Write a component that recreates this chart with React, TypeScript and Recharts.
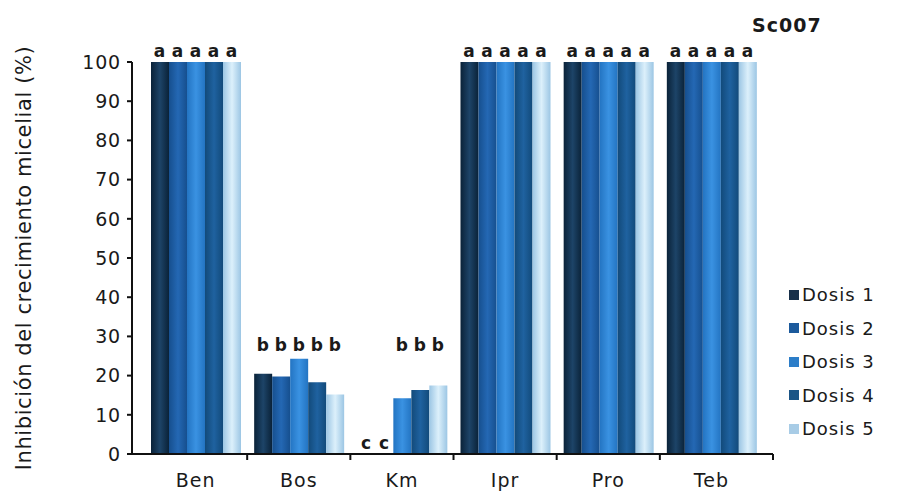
import React from "react";
import { BarChart, Bar, XAxis, YAxis } from "recharts";

const categories = ["Ben", "Bos", "Km", "Ipr", "Pro", "Teb"];
const dosis1 = [100, 20.5, 0, 100, 100, 100];
const dosis2 = [100, 19.8, 0, 100, 100, 100];
const dosis3 = [100, 24.3, 14.2, 100, 100, 100];
const dosis4 = [100, 18.3, 16.3, 100, 100, 100];
const dosis5 = [100, 15.2, 17.5, 100, 100, 100];

// letras de significancia por dosis y categoria
const letters1 = ["a", "b", "c", "a", "a", "a"];
const letters2 = ["a", "b", "c", "a", "a", "a"];
const letters3 = ["a", "b", "b", "a", "a", "a"];
const letters4 = ["a", "b", "b", "a", "a", "a"];
const letters5 = ["a", "b", "b", "a", "a", "a"];
// altura (en %) sobre la que se escriben las letras de cada grupo
const letterLevel = [100, 25, 25, 100, 100, 100];

const yTicks = [0, 10, 20, 30, 40, 50, 60, 70, 80, 90, 100];

const data = categories.map((name, i) => ({
  name,
  d1: dosis1[i],
  d2: dosis2[i],
  d3: dosis3[i],
  d4: dosis4[i],
  d5: dosis5[i],
}));

const series = [
  { key: "d1", name: "Dosis 1", letters: letters1, edge: "#0a2238", mid: "#1d4468", swatch: "#18304a" },
  { key: "d2", name: "Dosis 2", letters: letters2, edge: "#164f8e", mid: "#2468b4", swatch: "#1c5a9c" },
  { key: "d3", name: "Dosis 3", letters: letters3, edge: "#2374c2", mid: "#3a92e2", swatch: "#2c7dc8" },
  { key: "d4", name: "Dosis 4", letters: letters4, edge: "#124a7a", mid: "#1f62a0", swatch: "#1b5586" },
  { key: "d5", name: "Dosis 5", letters: letters5, edge: "#9cc6e4", mid: "#dcf0fb", swatch: "#a8cce6" },
];

const W = 896;
const H = 487;
const TOP = 54;
const XAXIS_H = 41;
const PLOT_H = H - TOP - XAXIS_H;
const BASE_Y = TOP + PLOT_H;
const BAR_SIZE = 18;
const BAND = 103.2;
const FONT = "'DejaVu Sans', Arial, sans-serif";

const CategoryTick = (props: any) => {
  const { x, payload, index } = props;
  const last = index === categories.length - 1;
  const tx = x + BAND / 2 + (last ? 10 : 0);
  return (
    <g>
      <line x1={tx} y1={BASE_Y} x2={tx} y2={BASE_Y + 6} stroke="#111" strokeWidth={2} />
      <text
        x={x}
        y={BASE_Y + 33}
        textAnchor="middle"
        fontSize={19}
        fontFamily={FONT}
        fill="#1a1a1a"
        letterSpacing={1}
      >
        {payload.value}
      </text>
      {series.map((s, si) => {
        const letter = s.letters[index];
        if (!letter) return null;
        const level = letter === "c" ? 0 : letterLevel[index];
        return (
          <text
            key={s.key}
            x={x + (si - 2) * BAR_SIZE}
            y={BASE_Y - (level * PLOT_H) / 100 - 5}
            textAnchor="middle"
            fontSize={17}
            fontWeight="bold"
            fontFamily={FONT}
            fill="#1a1a1a"
          >
            {letter}
          </text>
        );
      })}
    </g>
  );
};

const LegendBox = () => (
  <div
    style={{
      position: "absolute",
      left: 781,
      top: 270,
      fontFamily: FONT,
      fontSize: 18,
      letterSpacing: 1,
      color: "#1a1a1a",
    }}
  >
    {series.map((s) => (
      <div key={s.key} style={{ display: "flex", alignItems: "center", height: 33.5 }}>
        <span
          style={{
            display: "inline-block",
            width: 10,
            height: 10,
            background: s.swatch,
            marginRight: 3,
          }}
        />
        <span>{s.name}</span>
      </div>
    ))}
  </div>
);

export default function App() {
  return (
    <div style={{ position: "relative", width: W, height: H, background: "#fff" }}>
      <div
        style={{
          position: "absolute",
          left: 744,
          top: 6,
          fontFamily: FONT,
          fontSize: 19,
          fontWeight: "bold",
          color: "#1a1a1a",
          letterSpacing: 1,
        }}
      >
        Sc007
      </div>
      <BarChart
        width={W}
        height={H}
        data={data}
        margin={{ top: TOP, right: 131, bottom: 0, left: 0 }}
        barGap={0}
      >
        <defs>
          {series.map((s) => (
            <linearGradient key={s.key} id={`grad-${s.key}`} x1="0" y1="0" x2="1" y2="0">
              <stop offset="0%" stopColor={s.edge} />
              <stop offset="50%" stopColor={s.mid} />
              <stop offset="100%" stopColor={s.edge} />
            </linearGradient>
          ))}
        </defs>
        <XAxis
          dataKey="name"
          height={XAXIS_H}
          padding={{ left: 12, right: 10 }}
          axisLine={{ stroke: "#111", strokeWidth: 2 }}
          tickLine={false}
          tick={<CategoryTick />}
          interval={0}
        />
        <YAxis
          width={124}
          domain={[0, 100]}
          ticks={yTicks}
          interval={0}
          axisLine={{ stroke: "#111", strokeWidth: 2 }}
          tickLine={{ stroke: "#111", strokeWidth: 2 }}
          tickSize={5}
          tickMargin={6}
          tick={{ fill: "#1a1a1a", fontSize: 19, fontFamily: FONT, letterSpacing: 0.8 }}
          label={{
            value: "Inhibición del crecimiento micelial (%)",
            angle: -90,
            position: "insideLeft",
            offset: 16,
            style: {
              textAnchor: "middle",
              fontSize: 21,
              letterSpacing: 0.6,
              fontFamily: FONT,
              fill: "#1a1a1a",
            },
          }}
        />
        {series.map((s) => (
          <Bar
            key={s.key}
            dataKey={s.key}
            name={s.name}
            barSize={BAR_SIZE}
            fill={`url(#grad-${s.key})`}
            isAnimationActive={false}
          />
        ))}
      </BarChart>
      <LegendBox />
    </div>
  );
}
